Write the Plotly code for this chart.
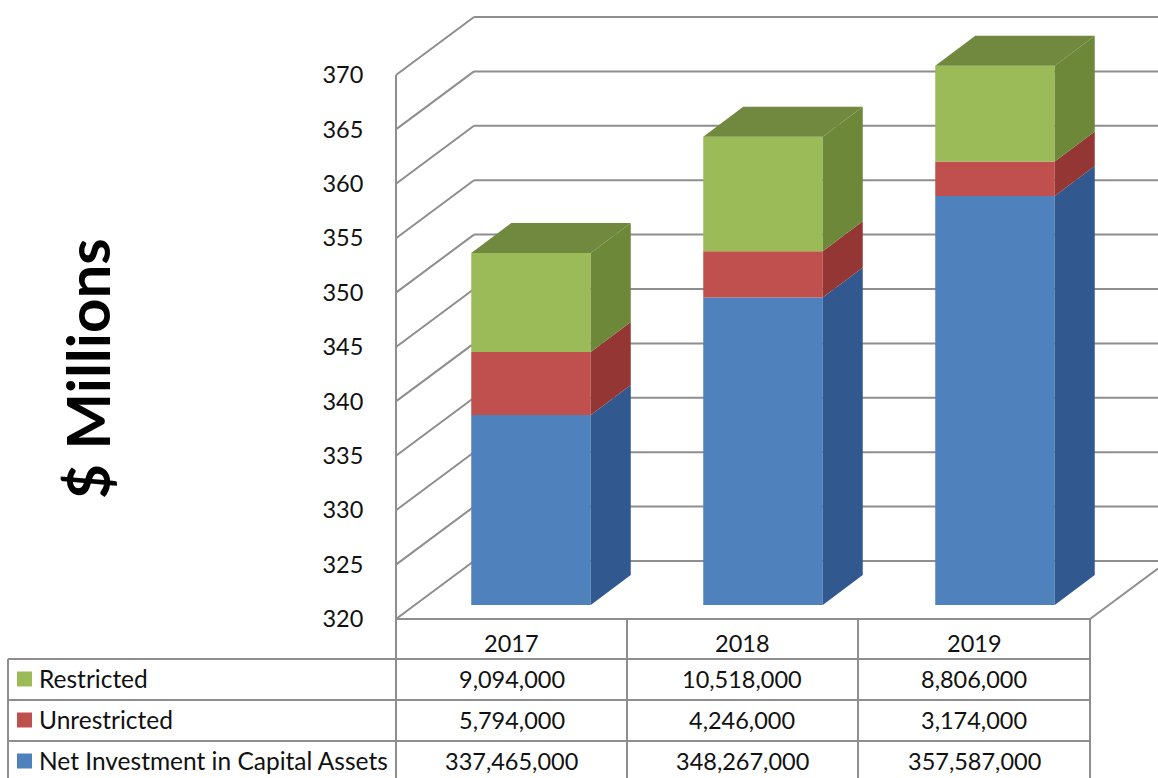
import plotly.graph_objects as go

years = ["2017", "2018", "2019"]
restricted = [9094000, 10518000, 8806000]
unrestricted = [5794000, 4246000, 3174000]
net_investment = [337465000, 348267000, 357587000]
y_ticks = [320, 325, 330, 335, 340, 345, 350, 355, 360, 365, 370]
series_names = ["Net Investment in Capital Assets", "Unrestricted", "Restricted"]
series_values = [net_investment, unrestricted, restricted]
front_colors = ["#4F81BD", "#C0504D", "#9BBB59"]
side_colors = ["#31598F", "#943734", "#6C8838"]
top_color = "#71893F"

W, H = 1158, 778
PX_PER_UNIT = 10.88
PX_PER_CAT = 232.0
Y0_PX = 619.0
X0_PX = 511.5


def X(px):
    return (px - X0_PX) / PX_PER_CAT


def DY(px):
    return px / PX_PER_UNIT


def px2val(py):
    return 320 + (Y0_PX - py) / PX_PER_UNIT


def PX(x):
    return x / W


def PY(y):
    return 1 - y / H


fig = go.Figure()
shapes = []
GRID = dict(color="#8E8E8E", width=2)

# Walls and floor grid, below the traces
wall_dx, wall_dy = X(474) - X(396), DY(58)


def gridseg(x0, y0, x1, y1):
    shapes.append(dict(type="line", xref="x", yref="y", x0=x0, y0=y0, x1=x1, y1=y1, line=GRID, layer="below"))


for t in y_ticks:
    gridseg(X(396), t, X(396) + wall_dx, t + wall_dy)
    gridseg(X(396) + wall_dx, t + wall_dy, X(1158), t + wall_dy)
gridseg(X(1090), y_ticks[0], X(1158), y_ticks[0] + wall_dy * (1158 - 1090) / 78)

# Stacked 3D columns
bar_dx = 19.5 / PX_PER_CAT
bar_w = 119.5 / PX_PER_CAT
depth_x, depth_y = 40 / PX_PER_CAT, DY(30)
lift = DY(14)
xs = list(range(len(years)))

for i, (name, vals) in enumerate(zip(series_names, series_values)):
    bottoms, tops = [], []
    for k in xs:
        lower = sum(series_values[j][k] for j in range(i)) / 1e6
        top = lower + vals[k] / 1e6
        bottoms.append(320 + lift if i == 0 else lower + lift)
        tops.append(top + lift)
    fig.add_trace(go.Bar(x=[k + bar_dx for k in xs], y=[t - b for t, b in zip(tops, bottoms)],
                         base=bottoms, width=bar_w, name=name, showlegend=False,
                         marker=dict(color=front_colors[i], line=dict(width=0))))
    sx, sy = [], []
    for k in xs:
        r = k + bar_dx + bar_w / 2
        sx += [r, r + depth_x, r + depth_x, r, r, None]
        sy += [bottoms[k], bottoms[k] + depth_y, tops[k] + depth_y, tops[k], bottoms[k], None]
    fig.add_trace(go.Scatter(x=sx, y=sy, mode="lines", fill="toself", fillcolor=side_colors[i],
                             line=dict(width=0), showlegend=False, hoverinfo="skip"))
    if i == len(series_values) - 1:
        tx, ty = [], []
        for k in xs:
            l = k + bar_dx - bar_w / 2
            r = k + bar_dx + bar_w / 2
            tx += [l, r, r + depth_x, l + depth_x, l, None]
            ty += [tops[k], tops[k], tops[k] + depth_y, tops[k] + depth_y, tops[k], None]
        fig.add_trace(go.Scatter(x=tx, y=ty, mode="lines", fill="toself", fillcolor=top_color,
                                 line=dict(width=0), showlegend=False, hoverinfo="skip"))

# Data table
LINE = dict(color="#8E8E8E", width=2)


def seg(x0, y0, x1, y1):
    shapes.append(dict(type="line", xref="paper", yref="paper", x0=PX(x0), y0=PY(y0),
                       x1=PX(x1), y1=PY(y1), line=LINE, layer="above"))


col_x = [396, 627, 858, 1090]
row_y = [659, 700, 741]
seg(396, 619, 1090, 619)
for y in row_y:
    seg(8, y, 1090, y)
seg(8, 659, 8, 778)
for i, x in enumerate(col_x):
    seg(x, 619 if i else 75, x, 778)

FONT = "Lato, Carlito, Calibri, sans-serif"
annotations = []


def label(text, x, y, anchor="center", size=23.5):
    annotations.append(dict(text=text, x=PX(x), y=PY(y), xref="paper", yref="paper", showarrow=False,
                            xanchor=anchor, yanchor="middle", font=dict(family=FONT, size=size, color="#111111")))


centers = [511.5, 742.5, 974]
for k, yr in enumerate(years):
    label(yr, centers[k], 643)
table_rows = [(2, 679), (1, 720), (0, 761)]
for idx, cy in table_rows:
    shapes.append(dict(type="rect", xref="paper", yref="paper", x0=PX(17), x1=PX(32), y0=PY(cy - 7.5), y1=PY(cy + 7.5),
                       fillcolor=front_colors[idx], line=dict(width=0), layer="above"))
    label(series_names[idx], 37, cy - 0.5, "left", 24.5)
    for k in xs:
        label(f"{series_values[idx][k]:,}", centers[k], cy)

annotations.append(dict(text="<b>$ Millions</b>", x=PX(87), y=PY(369), xref="paper", yref="paper", showarrow=False,
                        textangle=-90, xanchor="center", yanchor="middle",
                        font=dict(family=FONT, size=60, color="#000000")))

fig.update_layout(
    width=W, height=H, margin=dict(l=0, r=0, t=0, b=0), autosize=False,
    paper_bgcolor="white", plot_bgcolor="white", barmode="overlay", showlegend=False,
    shapes=shapes, annotations=annotations,
    xaxis=dict(range=[X(0), X(W)], visible=False, fixedrange=True),
    yaxis=dict(range=[px2val(H), px2val(0)], anchor="free", position=396 / W, side="left",
               tickmode="array", tickvals=y_ticks, ticktext=[str(t) for t in y_ticks],
               ticks="outside", ticklen=28, tickcolor="rgba(0,0,0,0)", showgrid=False, zeroline=False,
               showline=False, tickfont=dict(family=FONT, size=23.5, color="#111111"), fixedrange=True),
)

fig.write_html("out.html", config={"displayModeBar": False}, post_script="document.body.style.margin='0';")
